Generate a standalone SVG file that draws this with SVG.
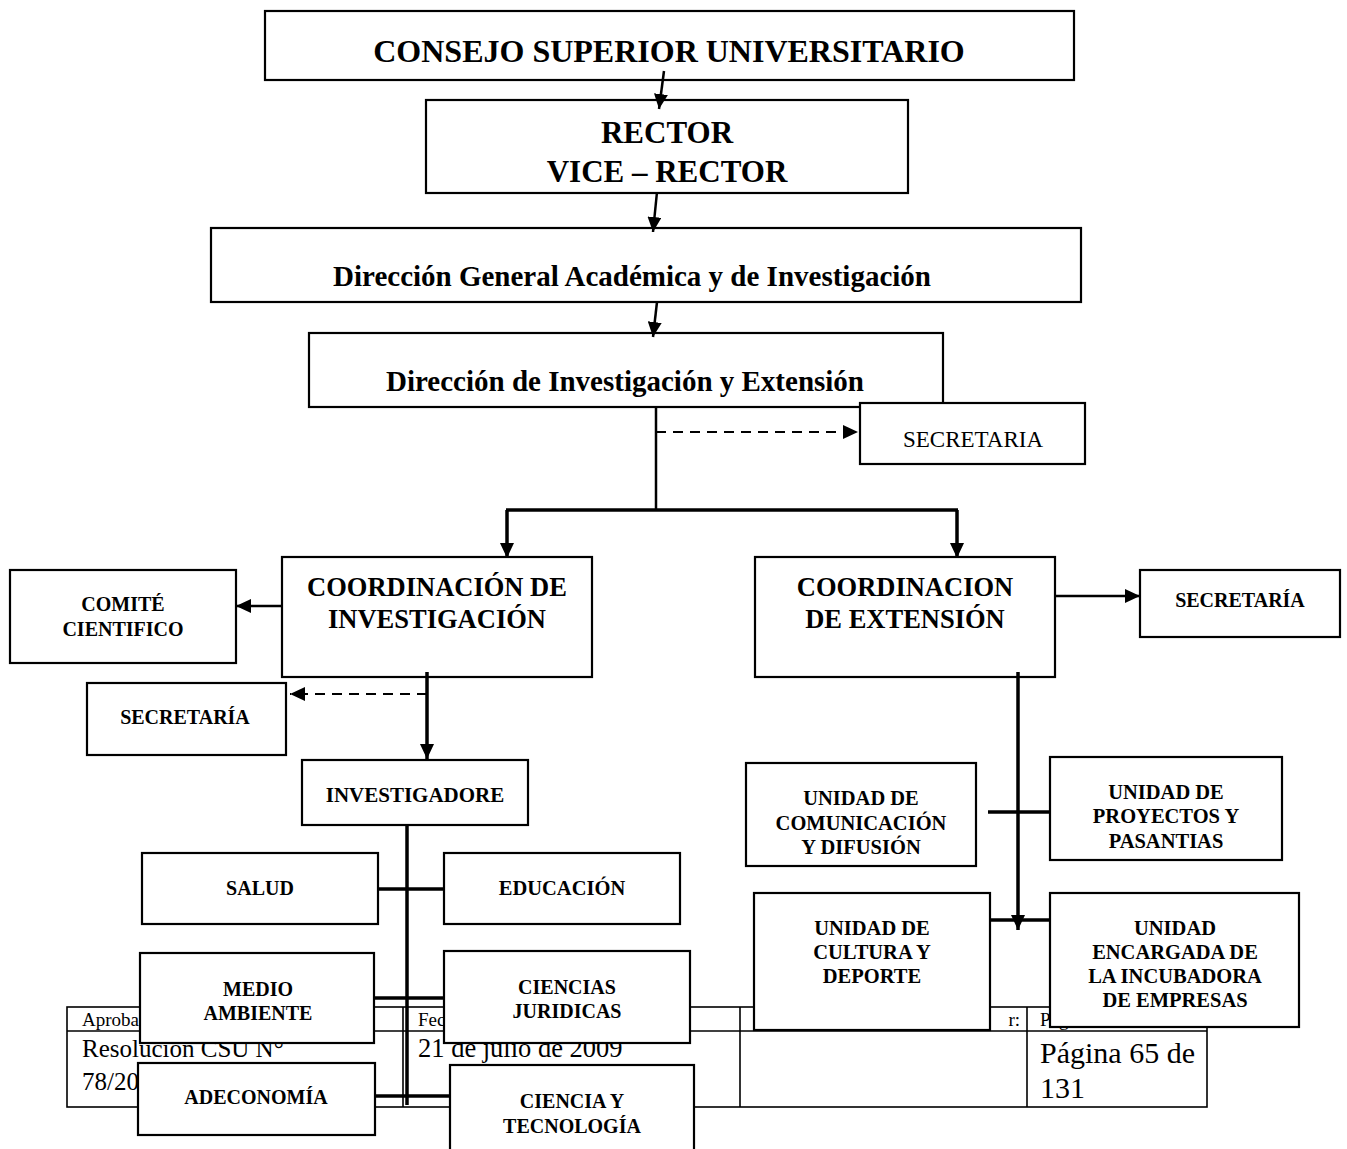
<svg xmlns="http://www.w3.org/2000/svg" width="1347" height="1149" viewBox="0 0 1347 1149">
<style>
.box{fill:#fff;stroke:#000;stroke-width:2.2}
.t{font-family:"Liberation Serif","Times New Roman",serif;font-weight:bold;fill:#000;text-anchor:middle}
.n{font-family:"Liberation Serif","Times New Roman",serif;fill:#000}
.c{stroke:#000;stroke-width:2.5;fill:none}
.k{stroke:#000;stroke-width:3.5;fill:none}
.d{stroke:#000;stroke-width:2;fill:none;stroke-dasharray:10,7}
.tl{stroke:#000;stroke-width:1.6;fill:none}
</style>
<defs>
<marker id="ah" viewBox="0 0 15 14" refX="15" refY="7" markerWidth="15" markerHeight="14" markerUnits="userSpaceOnUse" orient="auto">
<path d="M0,0 L15,7 L0,14 Z" fill="#000"/>
</marker>
</defs>
<rect width="1347" height="1149" fill="#fff"/>

<g id="footer-table">
<rect class="tl" x="67" y="1007" width="1140" height="100"/>
<line class="tl" x1="67" y1="1031" x2="1207" y2="1031"/>
<line class="tl" x1="403" y1="1007" x2="403" y2="1107"/>
<line class="tl" x1="740" y1="1007" x2="740" y2="1107"/>
<line class="tl" x1="1027" y1="1007" x2="1027" y2="1107"/>
<text class="n" x="82" y="1026" font-size="19">Aprobado por:</text>
<text class="n" x="418" y="1026" font-size="19">Fecha:</text>
<text class="n" x="1020" y="1026" font-size="19" text-anchor="end">r:</text>
<text class="n" x="1040" y="1026" font-size="19">Página:</text>
<text class="n" x="82" y="1057" font-size="25">Resolucion CSU N°</text>
<text class="n" x="82" y="1090" font-size="25">78/2009</text>
<text class="n" x="418" y="1057" font-size="26.5">21 de julio de 2009</text>
<text class="n" x="1040" y="1063" font-size="30">Página 65 de</text>
<text class="n" x="1040" y="1098" font-size="30">131</text>
</g>

<g id="consejo"><rect class="box" x="265" y="11" width="809" height="69"/>
<text class="t" x="669" y="62" font-size="32">CONSEJO SUPERIOR UNIVERSITARIO</text></g>

<g id="rector"><rect class="box" x="426" y="100" width="482" height="93"/>
<text class="t" x="667" y="143" font-size="31">RECTOR</text>
<text class="t" x="667" y="182" font-size="31">VICE – RECTOR</text></g>

<g id="direccion-general"><rect class="box" x="211" y="228" width="870" height="74"/>
<text class="t" x="632" y="286" font-size="29">Dirección General Académica y de Investigación</text></g>

<g id="direccion-investigacion"><rect class="box" x="309" y="333" width="634" height="74"/>
<text class="t" x="625" y="391" font-size="29">Dirección de Investigación y Extensión</text></g>

<g id="secretaria-dir"><rect class="box" x="860" y="403" width="225" height="61"/>
<text class="n" x="973" y="447" font-size="23" text-anchor="middle">SECRETARIA</text></g>

<g id="coord-investigacion"><rect class="box" x="282" y="557" width="310" height="120"/>
<text class="t" x="437" y="596" font-size="26.5">COORDINACIÓN DE</text>
<text class="t" x="437" y="628" font-size="26.5">INVESTIGACIÓN</text></g>

<g id="coord-extension"><rect class="box" x="755" y="557" width="300" height="120"/>
<text class="t" x="905" y="596" font-size="26.5">COORDINACION</text>
<text class="t" x="905" y="628" font-size="26.5">DE EXTENSIÓN</text></g>

<g id="comite"><rect class="box" x="10" y="570" width="226" height="93"/>
<text class="t" x="123" y="611" font-size="20">COMITÉ</text>
<text class="t" x="123" y="636" font-size="20">CIENTIFICO</text></g>

<g id="secretaria-ext"><rect class="box" x="1140" y="570" width="200" height="67"/>
<text class="t" x="1240" y="607" font-size="20">SECRETARÍA</text></g>

<g id="secretaria-inv"><rect class="box" x="87" y="683" width="199" height="72"/>
<text class="t" x="185" y="724" font-size="20">SECRETARÍA</text></g>

<g id="investigadores"><rect class="box" x="302" y="760" width="226" height="65"/>
<text class="t" x="415" y="802" font-size="21">INVESTIGADORE</text></g>

<g id="salud"><rect class="box" x="142" y="853" width="236" height="71"/>
<text class="t" x="260" y="895" font-size="20">SALUD</text></g>

<g id="educacion"><rect class="box" x="444" y="853" width="236" height="71"/>
<text class="t" x="562" y="895" font-size="20.5">EDUCACIÓN</text></g>

<g id="medio-ambiente"><rect class="box" x="140" y="953" width="234" height="90"/>
<text class="t" x="258" y="996" font-size="20">MEDIO</text>
<text class="t" x="258" y="1020" font-size="20">AMBIENTE</text></g>

<g id="ciencias-juridicas"><rect class="box" x="444" y="951" width="246" height="92"/>
<text class="t" x="567" y="994" font-size="20">CIENCIAS</text>
<text class="t" x="567" y="1018" font-size="20">JURIDICAS</text></g>

<g id="adeconomia"><rect class="box" x="138" y="1063" width="237" height="72"/>
<text class="t" x="256" y="1104" font-size="20">ADECONOMÍA</text></g>

<g id="ciencia-tecnologia"><rect class="box" x="450" y="1065" width="244" height="90"/>
<text class="t" x="572" y="1108" font-size="20">CIENCIA Y</text>
<text class="t" x="572" y="1133" font-size="20">TECNOLOGÍA</text></g>

<g id="unidad-comunicacion"><rect class="box" x="746" y="763" width="230" height="103"/>
<text class="t" x="861" y="805" font-size="20.5">UNIDAD DE</text>
<text class="t" x="861" y="830" font-size="20.5">COMUNICACIÓN</text>
<text class="t" x="861" y="854" font-size="20.5">Y DIFUSIÓN</text></g>

<g id="unidad-proyectos"><rect class="box" x="1050" y="757" width="232" height="103"/>
<text class="t" x="1166" y="799" font-size="20.5">UNIDAD DE</text>
<text class="t" x="1166" y="823" font-size="20.5">PROYECTOS Y</text>
<text class="t" x="1166" y="848" font-size="20.5">PASANTIAS</text></g>

<g id="unidad-cultura"><rect class="box" x="754" y="893" width="236" height="137"/>
<text class="t" x="872" y="935" font-size="20.5">UNIDAD DE</text>
<text class="t" x="872" y="959" font-size="20.5">CULTURA Y</text>
<text class="t" x="872" y="983" font-size="20.5">DEPORTE</text></g>

<g id="unidad-incubadora"><rect class="box" x="1050" y="893" width="249" height="134"/>
<text class="t" x="1175" y="935" font-size="20.5">UNIDAD</text>
<text class="t" x="1175" y="959" font-size="20.5">ENCARGADA DE</text>
<text class="t" x="1175" y="983" font-size="20.5">LA INCUBADORA</text>
<text class="t" x="1175" y="1007" font-size="20.5">DE EMPRESAS</text></g>

<g id="connectors">
<line class="c" x1="664" y1="71" x2="659" y2="109" marker-end="url(#ah)"/>
<line class="c" x1="657" y1="192" x2="653" y2="232" marker-end="url(#ah)"/>
<line class="c" x1="657" y1="302" x2="653" y2="337" marker-end="url(#ah)"/>
<line class="c" x1="656" y1="407" x2="656" y2="510"/>
<line class="d" x1="656" y1="432" x2="858" y2="432" marker-end="url(#ah)"/>
<line class="k" x1="506" y1="510" x2="958" y2="510"/>
<line class="k" x1="507" y1="510" x2="507" y2="558" marker-end="url(#ah)"/>
<line class="k" x1="957" y1="510" x2="957" y2="558" marker-end="url(#ah)"/>
<line class="c" x1="282" y1="606" x2="236" y2="606" marker-end="url(#ah)"/>
<line class="c" x1="1055" y1="596" x2="1140" y2="596" marker-end="url(#ah)"/>
<line class="d" x1="427" y1="694" x2="290" y2="694" marker-end="url(#ah)"/>
<line class="k" x1="427" y1="672" x2="427" y2="759" marker-end="url(#ah)"/>
<line class="k" x1="407" y1="825" x2="407" y2="1105"/>
<line class="k" x1="378" y1="889" x2="444" y2="889"/>
<line class="k" x1="374" y1="998" x2="444" y2="998"/>
<line class="k" x1="375" y1="1096" x2="450" y2="1096"/>
<line class="k" x1="1018" y1="672" x2="1018" y2="930" marker-end="url(#ah)"/>
<line class="k" x1="988" y1="812" x2="1050" y2="812"/>
<line class="k" x1="990" y1="920" x2="1050" y2="920"/>
</g>
</svg>
